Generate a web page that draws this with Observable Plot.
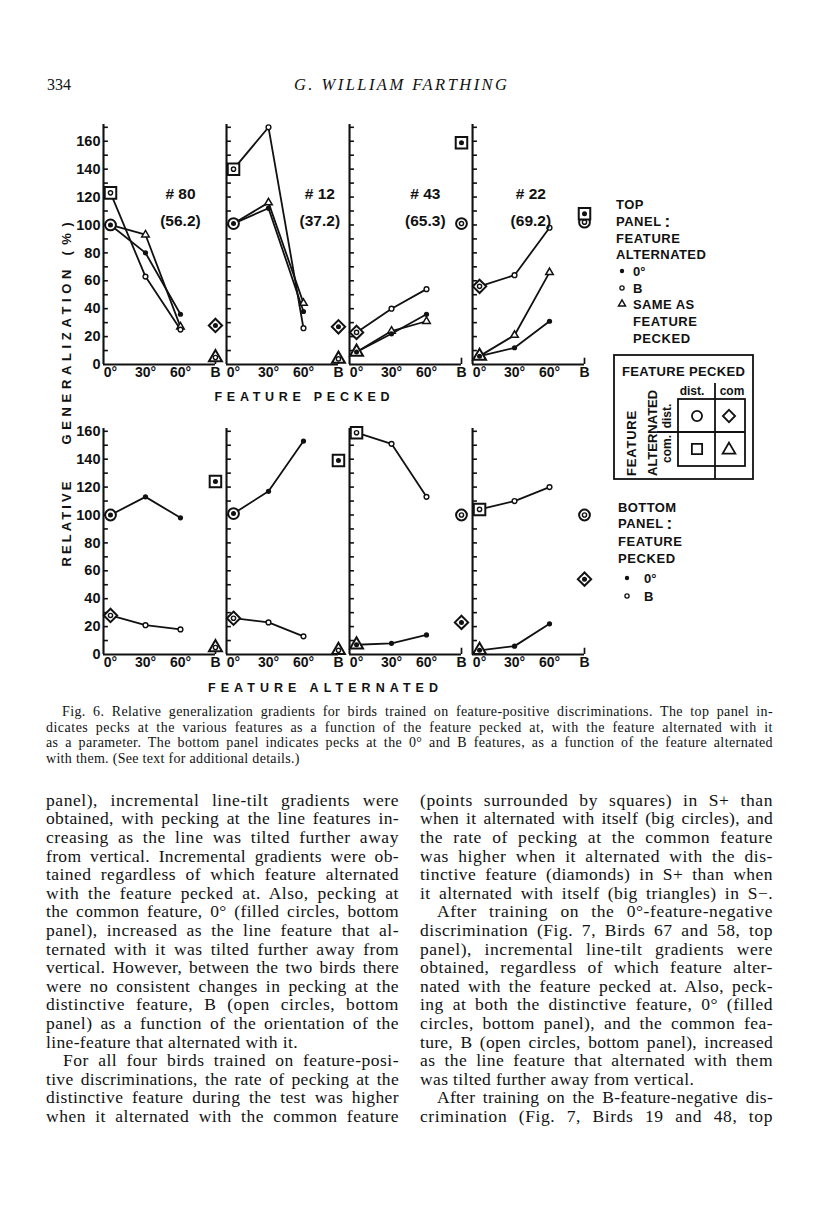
<!DOCTYPE html>
<html><head><meta charset="utf-8">
<script src="https://cdn.jsdelivr.net/npm/d3@7"></script>
<script src="https://cdn.jsdelivr.net/npm/@observablehq/plot@0.6"></script>
<style>
body{margin:0;background:#fff;}
#page{position:relative;width:816px;height:1207px;overflow:hidden;background:#fff;color:#111;}
.abs{position:absolute;}
.ln{position:absolute;white-space:nowrap;font-family:"Liberation Serif","Times New Roman",serif;color:#111;}
</style></head><body><div id="page"></div>
<script>
// ---------------- data ----------------
const birds = ["#80", "#12", "#43", "#22"];
const birdNames = ["# 80", "# 12", "# 43", "# 22"];
const birdScores = ["(56.2)", "(37.2)", "(65.3)", "(69.2)"];
const distinctive = ["0°", "0°", "B", "B"];
const lineFeatures = [0, 30, 60];
const xTickValues = [0, 30, 60, 90];          // 90 stands for feature B
const xTickLabels = ["0°", "30°", "60°", "B"];
const yTickLabels = [0, 20, 40, 60, 80, 100, 120, 140, 160];

// TOP panel: % at feature pecked 0°, 30°, 60°, by feature alternated
const topAlt0 = [[100, 80, 36], [101, 112, 38], [9, 22, 36], [6, 12, 31]];
const topAltB = [[123, 63, 25], [140, 170, 26], [23, 40, 54], [56, 64, 98]];
const topAltSame = [[100, 93, 27], [101, 116, 44], [9, 24, 31], [6, 21, 66]];
// TOP panel: feature B pecked, alternated with 0° / with B
const topPeckBAlt0 = [28, 27, 159, 108];
const topPeckBAltB = [5, 4, 101, 102];

// BOTTOM panel: % at feature pecked, by feature alternated 0°, 30°, 60°, B
const botPeck0 = [[100, 113, 98, 124], [101, 117, 153, 139], [7, 8, 14, 23], [3, 6, 22, 54]];
const botPeckB = [[28, 21, 18, 5], [26, 23, 13, 3], [159, 151, 113, 100], [104, 110, 120, 100]];

// ---------------- helpers ----------------
const ink = "#111";
const XB = 90;
const birdLabelX = [60, 74, 59, 44];
function enclosure(pecked, alt, dist) {
  const pd = pecked === dist, ad = alt === dist;
  return pd && ad ? "circle" : pd ? "square" : ad ? "diamond" : "triangle";
}

const topLines = [], topSpecial = [];
birds.forEach((bird, i) => {
  const d = distinctive[i];
  lineFeatures.forEach((x, j) => {
    topLines.push({bird, series: "alt0", x, y: topAlt0[i][j]});
    topLines.push({bird, series: "altB", x, y: topAltB[i][j]});
    topLines.push({bird, series: "same", x, y: topAltSame[i][j]});
  });
  topSpecial.push({bird, x: 0, y: topAlt0[i][0], inner: "filled", shape: enclosure("0°", "0°", d)});
  topSpecial.push({bird, x: 0, y: topAltB[i][0], inner: "open", shape: enclosure("0°", "B", d)});
  topSpecial.push({bird, x: XB, y: topPeckBAlt0[i], inner: "filled", shape: enclosure("B", "0°", d)});
  topSpecial.push({bird, x: XB, y: topPeckBAltB[i], inner: "open", shape: enclosure("B", "B", d)});
});
const botLines = [], botSpecial = [];
birds.forEach((bird, i) => {
  const d = distinctive[i];
  lineFeatures.forEach((x, j) => {
    botLines.push({bird, series: "peck0", x, y: botPeck0[i][j]});
    botLines.push({bird, series: "peckB", x, y: botPeckB[i][j]});
  });
  botSpecial.push({bird, x: 0, y: botPeck0[i][0], inner: "filled", shape: enclosure("0°", "0°", d)});
  botSpecial.push({bird, x: 0, y: botPeckB[i][0], inner: "open", shape: enclosure("B", "0°", d)});
  botSpecial.push({bird, x: XB, y: botPeck0[i][3], inner: "filled", shape: enclosure("0°", "B", d)});
  botSpecial.push({bird, x: XB, y: botPeckB[i][3], inner: "open", shape: enclosure("B", "B", d)});
});
const birdRows = birds.map((bird, i) => ({bird, name: birdNames[i], score: birdScores[i], lx: birdLabelX[i]}));

const shapeSpec = {circle: ["circle", 5.4], square: ["square", 6.5], diamond: ["diamond2", 6.0], triangle: ["triangle", 4.8]};

function panel({lines, special, filledSeries, openSeries, triSeries, yMax, height, marginTop, labels}) {
  const minor = d3.range(10, yMax, 10);
  const marks = [
    Plot.ruleX([-6], {stroke: ink, strokeWidth: 2.1}),
    Plot.ruleY(minor, {x1: -6, x2: -1.8, stroke: ink, strokeWidth: 1.6}),
    Plot.ruleY([0], {x1: -6, x2: XB, stroke: ink, strokeWidth: 2.1}),
    Plot.ruleX([XB], {y1: 0, y2: 4.5, stroke: ink, strokeWidth: 1.7}),
    Plot.axisY({ticks: yTickLabels, tickSize: 0, tickPadding: 3, label: null, fontSize: 14.5, fontWeight: "bold"}),
    Plot.axisX({ticks: xTickValues, tickFormat: d => xTickLabels[xTickValues.indexOf(d)], tickSize: 0, tickPadding: 3, label: null, fontSize: 14, fontWeight: "bold"}),
    Plot.line(lines, {x: "x", y: "y", z: "series", fx: "bird", stroke: ink, strokeWidth: 1.8})
  ];
  for (const [key, [sym, r]] of Object.entries(shapeSpec)) {
    marks.push(Plot.dot(special.filter(d => d.shape === key), {x: "x", y: "y", fx: "bird", symbol: sym, r, stroke: ink, strokeWidth: 2, fill: "white"}));
  }
  const inner = lines.filter(d => d.x !== 0);
  if (triSeries) marks.push(Plot.dot(inner.filter(d => d.series === triSeries), {x: "x", y: "y", fx: "bird", symbol: "triangle", r: 2.8, stroke: ink, strokeWidth: 1.5, fill: "white"}));
  marks.push(Plot.dot(inner.filter(d => d.series === openSeries), {x: "x", y: "y", fx: "bird", r: 2.4, stroke: ink, strokeWidth: 1.4, fill: "white"}));
  marks.push(Plot.dot(inner.filter(d => d.series === filledSeries), {x: "x", y: "y", fx: "bird", r: 2.6, fill: ink}));
  marks.push(Plot.dot(special.filter(d => d.inner === "open"), {x: "x", y: "y", fx: "bird", r: 2.1, stroke: ink, strokeWidth: 1.4, fill: "white"}));
  marks.push(Plot.dot(special.filter(d => d.inner === "filled"), {x: "x", y: "y", fx: "bird", r: 2.5, fill: ink}));
  if (labels) {
    marks.push(Plot.text(birdRows, {fx: "bird", x: "lx", y: 122, text: "name", fontSize: 15.5, fontWeight: "bold"}));
    marks.push(Plot.text(birdRows, {fx: "bird", x: "lx", y: 103, text: "score", fontSize: 15.5, fontWeight: "bold"}));
  }
  return Plot.plot({
    width: 816, height, marginLeft: 103, marginRight: 232, marginTop, marginBottom: 26,
    fx: {domain: birds, axis: null, paddingInner: 0.09, paddingOuter: 0, round: false},
    x: {domain: [-6, XB]},
    y: {domain: [0, yMax]},
    style: {fontFamily: "'Liberation Sans', Arial, sans-serif", color: ink, background: "transparent", overflow: "visible"},
    marks
  });
}

const page = d3.select("#page");
const topPlot = panel({lines: topLines, special: topSpecial, filledSeries: "alt0", openSeries: "altB", triSeries: "same", yMax: 172, height: 280, marginTop: 14, labels: true});
const botPlot = panel({lines: botLines, special: botSpecial, filledSeries: "peck0", openSeries: "peckB", triSeries: null, yMax: 162, height: 270, marginTop: 18, labels: false});
page.append(() => topPlot).attr("class", "abs").style("left", "0px").style("top", "110px");
page.append(() => botPlot).attr("class", "abs").style("left", "0px").style("top", "410px");

// ---------------- overlay: titles, legends, header ----------------
const ov = page.append("svg").attr("class", "abs").attr("width", 816).attr("height", 1207)
  .style("left", "0px").style("top", "0px").style("pointer-events", "none");
const sans = "'Liberation Sans', Arial, sans-serif";
function txt(x, y, s, o = {}) {
  const e = ov.append("text").attr("x", x).attr("y", y).attr("dominant-baseline", "central")
    .attr("font-family", o.family || sans).attr("font-weight", o.weight || "bold")
    .attr("font-size", o.size || 13).attr("fill", ink).attr("text-anchor", o.anchor || "start").text(s);
  if (o.len) e.attr("textLength", o.len).attr("lengthAdjust", "spacing");
  if (o.style) e.attr("font-style", o.style);
  if (o.rot) e.attr("transform", `rotate(-90 ${x} ${y})`);
  if (o.ls) e.attr("letter-spacing", o.ls);
  return e;
}
// header
txt(47, 84, "334", {family: "'Liberation Serif', serif", weight: "normal", size: 16});
txt(294, 84, "G. WILLIAM FARTHING", {family: "'Liberation Serif', serif", weight: "normal", size: 16.5, style: "italic", len: 213});

// axis titles
txt(302, 397, "FEATURE PECKED", {anchor: "middle", size: 12.5, len: 175});
txt(323, 688, "FEATURE ALTERNATED", {anchor: "middle", size: 12.5, len: 230});
txt(66, 524, "RELATIVE", {anchor: "middle", size: 13, len: 85, rot: true});
txt(66, 357, "GENERALIZATION", {anchor: "middle", size: 13, len: 175, rot: true});
txt(66, 239, "(%)", {anchor: "middle", size: 13, len: 33, rot: true});

// top legend
const lx = 616;
txt(lx, 204, "TOP", {ls: 0.5});
txt(lx, 221, "PANEL", {ls: 0.5}).append("tspan").attr("font-size", 17).attr("dx", 3).text(":");
txt(lx, 238, "FEATURE", {ls: 0.6});
txt(lx, 254, "ALTERNATED", {ls: 0.4});
ov.append("circle").attr("cx", 622).attr("cy", 271).attr("r", 2.2).attr("fill", ink);
txt(633, 271, "0°");
ov.append("circle").attr("cx", 622).attr("cy", 288).attr("r", 2.1).attr("fill", "white").attr("stroke", ink).attr("stroke-width", 1.3);
txt(633, 288, "B");
ov.append("path").attr("transform", "translate(622,304)").attr("d", d3.symbol(d3.symbolTriangle, 22)()).attr("fill", "white").attr("stroke", ink).attr("stroke-width", 1.4);
txt(633, 304, "SAME  AS", {ls: 0.4});
txt(633, 321, "FEATURE", {ls: 0.6});
txt(633, 338, "PECKED", {ls: 0.6});

// key box
ov.append("rect").attr("x", 614).attr("y", 355).attr("width", 139).attr("height", 124).attr("fill", "none").attr("stroke", ink).attr("stroke-width", 1.8);
txt(683.5, 371, "FEATURE PECKED", {anchor: "middle", size: 13, len: 123});
txt(692, 391, "dist.", {anchor: "middle", size: 12});
txt(732, 391, "com", {anchor: "middle", size: 12});
const g = ov.append("g").attr("stroke", ink).attr("stroke-width", 1.8).attr("fill", "none");
g.append("rect").attr("x", 678).attr("y", 399).attr("width", 67).attr("height", 67);
g.append("line").attr("x1", 715).attr("x2", 715).attr("y1", 383).attr("y2", 479);
g.append("line").attr("x1", 657).attr("x2", 745).attr("y1", 432).attr("y2", 432);
txt(667, 416, "dist.", {anchor: "middle", size: 12, rot: true});
txt(667, 449, "com.", {anchor: "middle", size: 12, rot: true});
txt(652, 476, "ALTERNATED", {size: 13, rot: true});
txt(631, 476, "FEATURE", {size: 13, rot: true, ls: 0.8});
const sym = (type, size, x, y) => g.append("path").attr("transform", `translate(${x},${y})`).attr("d", d3.symbol(type, size)());
sym(d3.symbolCircle, 80, 697, 416);
sym(d3.symbolDiamond2, 95, 729, 416);
sym(d3.symbolSquare, 105, 697, 449);
sym(d3.symbolTriangle, 70, 729, 450);

// bottom legend
const bx = 618;
txt(bx, 507, "BOTTOM", {ls: 0.4});
txt(bx, 523, "PANEL", {ls: 0.5}).append("tspan").attr("font-size", 17).attr("dx", 3).text(":");
txt(bx, 541, "FEATURE", {ls: 0.6});
txt(bx, 558, "PECKED", {ls: 0.6});
ov.append("circle").attr("cx", 627).attr("cy", 578).attr("r", 2.2).attr("fill", ink);
txt(644, 578, "0°");
ov.append("circle").attr("cx", 627).attr("cy", 596).attr("r", 2.1).attr("fill", "white").attr("stroke", ink).attr("stroke-width", 1.3);
txt(644, 596, "B");

// ---------------- caption & body text ----------------
const captionLines = [
  {t: "Fig. 6. Relative generalization gradients for birds trained on feature-positive discriminations. The top panel in-", indent: 16},
  {t: "dicates pecks at the various features as a function of the feature pecked at, with the feature alternated with it"},
  {t: "as a parameter. The bottom panel indicates pecks at the 0° and B features, as a function of the feature alternated"},
  {t: "with them.  (See text for additional details.)", last: true}
];
const bodyLeft = [
  {t: "panel), incremental line-tilt gradients were"},
  {t: "obtained, with pecking at the line features in-"},
  {t: "creasing as the line was tilted further away"},
  {t: "from vertical. Incremental gradients were ob-"},
  {t: "tained regardless of which feature alternated"},
  {t: "with the feature pecked at. Also, pecking at"},
  {t: "the common feature, 0° (filled circles, bottom"},
  {t: "panel), increased as the line feature that al-"},
  {t: "ternated with it was tilted further away from"},
  {t: "vertical. However, between the two birds there"},
  {t: "were no consistent changes in pecking at the"},
  {t: "distinctive feature, B (open circles, bottom"},
  {t: "panel) as a function of the orientation of the"},
  {t: "line-feature that alternated with it.", last: true},
  {t: "For all four birds trained on feature-posi-", indent: 17},
  {t: "tive discriminations, the rate of pecking at the"},
  {t: "distinctive feature during the test was higher"},
  {t: "when it alternated with the common feature"}
];
const bodyRight = [
  {t: "(points surrounded by squares) in S+ than"},
  {t: "when it alternated with itself (big circles), and"},
  {t: "the rate of pecking at the common feature"},
  {t: "was higher when it alternated with the dis-"},
  {t: "tinctive feature (diamonds) in S+ than when"},
  {t: "it alternated with itself (big triangles) in S−."},
  {t: "After training on the 0°-feature-negative", indent: 17},
  {t: "discrimination (Fig. 7, Birds 67 and 58, top"},
  {t: "panel), incremental line-tilt gradients were"},
  {t: "obtained, regardless of which feature alter-"},
  {t: "nated with the feature pecked at. Also, peck-"},
  {t: "ing at both the distinctive feature, 0° (filled"},
  {t: "circles, bottom panel), and the common fea-"},
  {t: "ture, B (open circles, bottom panel), increased"},
  {t: "as the line feature that alternated with them"},
  {t: "was tilted further away from vertical.", last: true},
  {t: "After training on the B-feature-negative dis-", indent: 17},
  {t: "crimination (Fig. 7, Birds 19 and 48, top"}
];
function block(lines, left, width, top, lh, size, lsMax) {
  lines.forEach((l, i) => {
    const x = left + (l.indent || 0);
    const el = page.append("div").attr("class", "ln")
      .style("left", x + "px").style("top", (top + i * lh) + "px")
      .style("font-size", size + "px").style("line-height", lh + "px").text(l.t);
    const node = el.node();
    const target = width - (l.indent || 0);
    const w0 = node.getBoundingClientRect().width;
    const nChars = l.t.length;
    let ls = Math.max(-0.4, Math.min(lsMax, (target - w0) * 0.45 / nChars));
    if (l.last) ls = Math.min(ls, lsMax * 0.6);
    el.style("letter-spacing", ls + "px");
    if (!l.last) {
      const w = node.getBoundingClientRect().width;
      const n = (l.t.match(/ /g) || []).length;
      if (n) el.style("word-spacing", ((target - w) / n) + "px");
    }
  });
}
block(captionLines, 46, 727, 704, 15.6, 14, 0.5);
block(bodyLeft, 46, 353, 790.7, 18.6, 17.5, 0.6);
block(bodyRight, 420, 353, 790.7, 18.6, 17.5, 0.6);
</script></body></html>
